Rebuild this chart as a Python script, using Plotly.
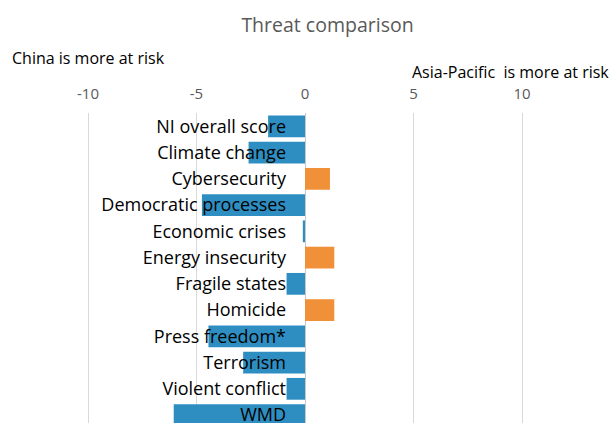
import plotly.graph_objects as go

categories = ["NI overall score", "Climate change", "Cybersecurity", "Democratic processes",
              "Economic crises", "Energy insecurity", "Fragile states", "Homicide",
              "Press freedom*", "Terrorism", "Violent conflict", "WMD"]
values = [-1.7, -2.6, 1.15, -4.75, -0.1, 1.35, -0.85, 1.35, -4.45, -2.85, -0.85, -6.05]
x_ticks = [-10, -5, 0, 5, 10]

BLUE = "#2E8EC2"
ORANGE = "#F0913A"
colors = [ORANGE if v > 0 else BLUE for v in values]

W, H = 613, 426
zero_px = 305.0
ppu = 21.7
x_min = (0 - zero_px) / ppu
x_max = (W - zero_px) / ppu

top_px = 113
spacing = 26.5
r0 = -(126.5 - top_px) / spacing
r1 = r0 + (H - top_px) / spacing
plot_h = H - top_px


def py(page_y):
    return (H - page_y) / plot_h


fig = go.Figure(go.Bar(
    y=categories, x=values, orientation="h",
    marker=dict(color=colors, line=dict(width=0)),
    width=0.83,
))

fig.update_layout(
    width=W, height=H,
    margin=dict(l=0, r=0, t=top_px, b=0),
    plot_bgcolor="white", paper_bgcolor="white",
    showlegend=False,
    font=dict(family="Open Sans", color="#000000"),
    title=dict(text="Threat comparison", x=327.5 / W, xanchor="center",
               y=1 - 25 / H, yanchor="middle",
               font=dict(size=19.5, color="#595959", family="Open Sans")),
    xaxis=dict(range=[x_min, x_max], side="top", tickvals=x_ticks,
               ticktext=[str(t) for t in x_ticks],
               showgrid=True, gridcolor="#D9D9D9", gridwidth=1,
               zeroline=True, zerolinecolor="#C8C8C8", zerolinewidth=1,
               showline=False, ticks="",
               tickfont=dict(size=15, color="#595959"), ticklabelstandoff=10),
    yaxis=dict(categoryorder="array", categoryarray=categories,
               range=[r1, r0], anchor="free", position=288 / W,
               showgrid=False, zeroline=False, showline=False, ticks="",
               tickfont=dict(size=18, color="#000000"), ticklabelstandoff=2),
    bargap=0.17,
)

fig.add_annotation(text="China is more at risk", xref="paper", yref="paper",
                   x=10 / W, y=py(57), xanchor="left", yanchor="middle",
                   showarrow=False, font=dict(size=16, color="#000000"))
fig.add_annotation(text="Asia-Pacific  is more at risk", xref="paper", yref="paper",
                   x=611 / W, y=py(71.5), xanchor="right", yanchor="middle",
                   showarrow=False, font=dict(size=16, color="#000000"))

fig.write_html(
    "out.html",
    config={"displayModeBar": False},
    post_script="document.body.style.margin='0';document.body.style.overflow='hidden';",
)
